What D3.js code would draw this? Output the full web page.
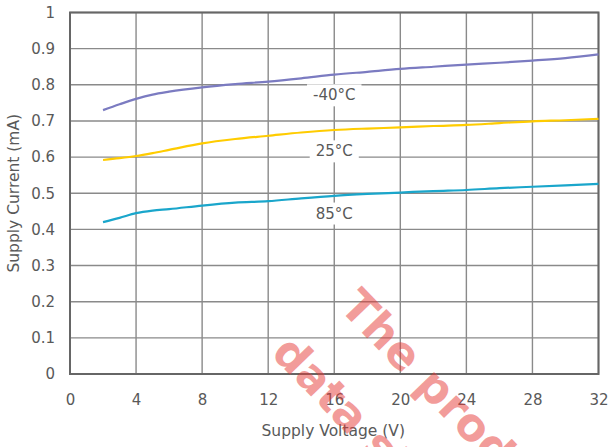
<!DOCTYPE html>
<html>
<head>
<meta charset="utf-8">
<script src="https://cdn.jsdelivr.net/npm/d3@7"></script>
<style>
  body { margin: 0; background: #fff; }
  text { font-family: "DejaVu Sans", Verdana, sans-serif; fill: #595959; }
</style>
</head>
<body>
<div id="chart"></div>
<script>
// values
var voltage = [2, 3, 4, 5, 6, 8, 10, 12, 14, 16, 18, 20, 22, 24, 26, 28, 30, 32];
var currentM40 = [0.730, 0.746, 0.761, 0.773, 0.781, 0.793, 0.802, 0.809, 0.818, 0.828, 0.836, 0.844, 0.850, 0.856, 0.861, 0.867, 0.874, 0.884];
var current25 = [0.592, 0.597, 0.603, 0.611, 0.620, 0.638, 0.650, 0.659, 0.668, 0.675, 0.679, 0.682, 0.686, 0.689, 0.694, 0.699, 0.702, 0.706];
var current85 = [0.420, 0.432, 0.445, 0.452, 0.456, 0.466, 0.474, 0.478, 0.486, 0.493, 0.498, 0.502, 0.506, 0.509, 0.514, 0.518, 0.522, 0.526];

var seriesNames = ["-40°C", "25°C", "85°C"];
var labelX = [16, 16, 16];
var labelY = [0.772, 0.617, 0.445];

var xTicks = [0, 4, 8, 12, 16, 20, 24, 28, 32];
var yTicks = [0, 0.1, 0.2, 0.3, 0.4, 0.5, 0.6, 0.7, 0.8, 0.9, 1];

var watermark = ["The product", "data sheet"];

var colors = ["#7b7bc1", "#ffcc00", "#1aa6cb"];

var width = 608, height = 447;
var margin = {top: 12.5, right: 9.5, bottom: 73, left: 70};

var svg = d3.select("#chart").append("svg")
    .attr("width", width)
    .attr("height", height);

var x = d3.scaleLinear().domain([0, 32]).range([margin.left, width - margin.right]);
var y = d3.scaleLinear().domain([0, 1]).range([height - margin.bottom, margin.top]);

// grid
svg.append("g").selectAll("line").data(yTicks).enter().append("line")
    .attr("x1", x(0)).attr("x2", x(32))
    .attr("y1", d => y(d)).attr("y2", d => y(d))
    .attr("stroke", "#8a8a8a").attr("stroke-width", 1.4);
svg.append("g").selectAll("line").data(xTicks).enter().append("line")
    .attr("x1", d => x(d)).attr("x2", d => x(d))
    .attr("y1", y(0)).attr("y2", y(1))
    .attr("stroke", "#8a8a8a").attr("stroke-width", 1.4);

// frame
svg.append("rect")
    .attr("x", x(0)).attr("y", y(1))
    .attr("width", x(32) - x(0)).attr("height", y(0) - y(1))
    .attr("fill", "none").attr("stroke", "#666").attr("stroke-width", 2);

// axes (labels only)
var xAxis = svg.append("g")
    .attr("transform", "translate(0," + y(0) + ")")
    .call(d3.axisBottom(x).tickValues(xTicks).tickSize(0).tickPadding(20));
var yAxis = svg.append("g")
    .attr("transform", "translate(" + x(0) + ",0)")
    .call(d3.axisLeft(y).tickValues(yTicks).tickFormat(d3.format("~g")).tickSize(0).tickPadding(15));
[xAxis, yAxis].forEach(function(g) {
    g.select(".domain").remove();
    g.selectAll("text")
        .style("font-family", '"DejaVu Sans", Verdana, sans-serif')
        .style("font-size", "15px")
        .attr("fill", "#595959");
});

// curves
var rows = [currentM40, current25, current85];
var line = d3.line()
    .x(d => x(d[0]))
    .y(d => y(d[1]))
    .curve(d3.curveMonotoneX);

rows.forEach(function(vals, i) {
    svg.append("path")
        .datum(voltage.map((v, j) => [v, vals[j]]))
        .attr("fill", "none")
        .attr("stroke", colors[i])
        .attr("stroke-width", 2.2)
        .attr("d", line);
});

// series labels with white boxes
seriesNames.forEach(function(name, i) {
    var g = svg.append("g")
        .attr("transform", "translate(" + x(labelX[i]) + "," + y(labelY[i]) + ")");
    var t = g.append("text")
        .attr("text-anchor", "middle")
        .attr("dy", "0.36em")
        .style("font-size", "15px")
        .text(name);
    var bb = t.node().getBBox();
    g.insert("rect", "text")
        .attr("x", bb.x - 6).attr("y", bb.y - 2)
        .attr("width", bb.width + 12).attr("height", bb.height + 4)
        .attr("fill", "#fff");
});

// axis titles
svg.append("text")
    .attr("x", (x(0) + x(32)) / 2 - 1)
    .attr("y", 436)
    .attr("text-anchor", "middle")
    .style("font-size", "15.5px")
    .text("Supply Voltage (V)");

svg.append("text")
    .attr("transform", "translate(19," + (y(0) + y(1)) / 2 + ") rotate(-90)")
    .attr("text-anchor", "middle")
    .style("font-size", "15.5px")
    .text("Supply Current (mA)");

// watermark (runs off the bottom edge, as in the source image)
var wm = svg.append("g")
    .attr("transform", "translate(338,308) rotate(46)")
    .style("pointer-events", "none");
wm.selectAll("text").data(watermark).enter().append("text")
    .attr("x", (d, i) => i * -14)
    .attr("y", (d, i) => i * 81)
    .style("font-family", '"DejaVu Sans", Verdana, sans-serif')
    .style("font-weight", "bold")
    .style("font-size", "45px")
    .style("fill", "#e53935")
    .style("fill-opacity", 0.5)
    .text(d => d);
</script>
</body>
</html>
